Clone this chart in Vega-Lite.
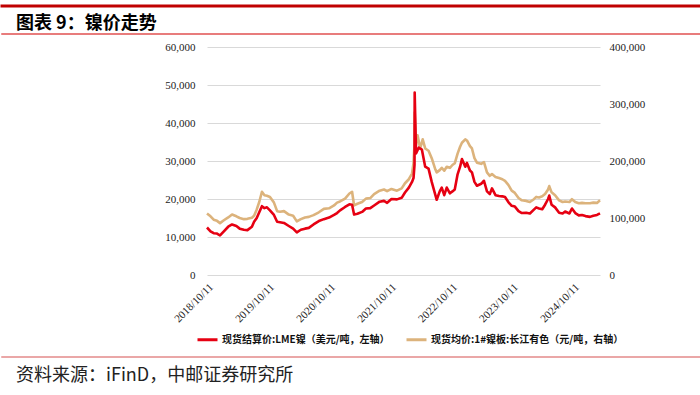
{
  "$schema": "https://vega.github.io/schema/vega-lite/v6.json",
  "background": "white",
  "padding": {"top": 4, "left": 0, "right": 0, "bottom": 0},
  "spacing": 6,
  "columns": 1,
  "align": "none",
  "resolve": {"scale": {"color": "independent"}, "legend": {"color": "independent"}},
  "config": {
    "view": {"stroke": null},
    "font": "Noto Sans CJK SC",
    "title": {"font": "Noto Sans CJK SC", "color": "#111111"}
  },
  "datasets": {
    "lme": [
      {"d": "2018-10-11", "v": 12500}, {"d": "2018-11-01", "v": 11500}, {"d": "2018-11-20", "v": 11000}, {"d": "2018-12-10", "v": 10900},
      {"d": "2018-12-28", "v": 10400}, {"d": "2019-01-20", "v": 11500}, {"d": "2019-02-15", "v": 12700}, {"d": "2019-03-10", "v": 13300},
      {"d": "2019-04-05", "v": 12900}, {"d": "2019-04-25", "v": 12200}, {"d": "2019-05-20", "v": 11900}, {"d": "2019-06-10", "v": 11800},
      {"d": "2019-07-07", "v": 12700}, {"d": "2019-07-20", "v": 14000}, {"d": "2019-08-05", "v": 15000}, {"d": "2019-08-20", "v": 16500},
      {"d": "2019-09-05", "v": 18100}, {"d": "2019-09-20", "v": 17600}, {"d": "2019-10-05", "v": 17800}, {"d": "2019-10-23", "v": 17000},
      {"d": "2019-11-16", "v": 15800}, {"d": "2019-12-05", "v": 14000}, {"d": "2019-12-22", "v": 13900}, {"d": "2020-01-15", "v": 13700},
      {"d": "2020-02-13", "v": 12900}, {"d": "2020-03-10", "v": 12200}, {"d": "2020-04-01", "v": 11200}, {"d": "2020-04-25", "v": 11900},
      {"d": "2020-05-20", "v": 12200}, {"d": "2020-06-12", "v": 12400}, {"d": "2020-07-10", "v": 13300}, {"d": "2020-08-11", "v": 14200},
      {"d": "2020-09-10", "v": 14700}, {"d": "2020-10-11", "v": 15100}, {"d": "2020-11-10", "v": 15800}, {"d": "2020-11-28", "v": 16300},
      {"d": "2020-12-16", "v": 17000}, {"d": "2021-01-15", "v": 17900}, {"d": "2021-02-10", "v": 18600}, {"d": "2021-02-26", "v": 18500},
      {"d": "2021-03-10", "v": 15900}, {"d": "2021-03-30", "v": 16100}, {"d": "2021-04-27", "v": 16600}, {"d": "2021-05-20", "v": 17500},
      {"d": "2021-06-15", "v": 17600}, {"d": "2021-07-08", "v": 18300}, {"d": "2021-08-10", "v": 19300}, {"d": "2021-09-05", "v": 19500},
      {"d": "2021-09-24", "v": 19000}, {"d": "2021-10-20", "v": 20000}, {"d": "2021-11-22", "v": 19900}, {"d": "2021-12-20", "v": 20300},
      {"d": "2022-01-09", "v": 21700}, {"d": "2022-02-01", "v": 23000}, {"d": "2022-02-20", "v": 24500}, {"d": "2022-03-01", "v": 25500},
      {"d": "2022-03-07", "v": 29000}, {"d": "2022-03-08", "v": 48000}, {"d": "2022-03-16", "v": 32000}, {"d": "2022-04-01", "v": 33500},
      {"d": "2022-04-20", "v": 33000}, {"d": "2022-05-10", "v": 28500}, {"d": "2022-05-30", "v": 28000}, {"d": "2022-06-18", "v": 24500},
      {"d": "2022-07-10", "v": 21000}, {"d": "2022-07-18", "v": 19800}, {"d": "2022-08-05", "v": 22000}, {"d": "2022-08-17", "v": 23000},
      {"d": "2022-09-01", "v": 21000}, {"d": "2022-09-16", "v": 23000}, {"d": "2022-10-05", "v": 21500}, {"d": "2022-10-20", "v": 22000},
      {"d": "2022-11-03", "v": 22500}, {"d": "2022-11-20", "v": 26500}, {"d": "2022-12-05", "v": 28500}, {"d": "2022-12-16", "v": 30500},
      {"d": "2023-01-05", "v": 28500}, {"d": "2023-01-15", "v": 29500}, {"d": "2023-02-02", "v": 27500}, {"d": "2023-02-14", "v": 27000},
      {"d": "2023-03-01", "v": 24500}, {"d": "2023-03-16", "v": 23500}, {"d": "2023-04-10", "v": 24000}, {"d": "2023-04-27", "v": 24800},
      {"d": "2023-05-15", "v": 22000}, {"d": "2023-06-01", "v": 21300}, {"d": "2023-06-14", "v": 22800}, {"d": "2023-07-05", "v": 21000},
      {"d": "2023-07-26", "v": 20800}, {"d": "2023-08-15", "v": 20700}, {"d": "2023-08-31", "v": 20500}, {"d": "2023-09-20", "v": 19200},
      {"d": "2023-10-10", "v": 18200}, {"d": "2023-10-29", "v": 18000}, {"d": "2023-11-20", "v": 16800}, {"d": "2023-12-10", "v": 16300},
      {"d": "2024-01-05", "v": 16400}, {"d": "2024-01-27", "v": 16200}, {"d": "2024-02-20", "v": 17200}, {"d": "2024-03-05", "v": 17800},
      {"d": "2024-03-22", "v": 17500}, {"d": "2024-04-10", "v": 17300}, {"d": "2024-04-27", "v": 18500}, {"d": "2024-05-15", "v": 20000},
      {"d": "2024-05-22", "v": 20900}, {"d": "2024-06-05", "v": 18500}, {"d": "2024-06-26", "v": 17800}, {"d": "2024-07-20", "v": 16400},
      {"d": "2024-08-10", "v": 16200}, {"d": "2024-08-25", "v": 16700}, {"d": "2024-09-20", "v": 16200}, {"d": "2024-10-05", "v": 17500},
      {"d": "2024-10-25", "v": 16300}, {"d": "2024-11-15", "v": 15700}, {"d": "2024-12-04", "v": 15800}, {"d": "2024-12-25", "v": 15500},
      {"d": "2025-01-21", "v": 15300}, {"d": "2025-02-10", "v": 15600}, {"d": "2025-03-04", "v": 15800}, {"d": "2025-03-22", "v": 16200}
    ],
    "cj": [
      {"d": "2018-10-11", "v": 108000}, {"d": "2018-11-01", "v": 103000}, {"d": "2018-11-20", "v": 97000}, {"d": "2018-12-10", "v": 95000},
      {"d": "2018-12-28", "v": 91000}, {"d": "2019-01-20", "v": 96000}, {"d": "2019-02-15", "v": 101000}, {"d": "2019-03-10", "v": 106000},
      {"d": "2019-04-05", "v": 103000}, {"d": "2019-04-25", "v": 100000}, {"d": "2019-05-20", "v": 98000}, {"d": "2019-06-10", "v": 98500},
      {"d": "2019-07-07", "v": 100500}, {"d": "2019-07-20", "v": 104000}, {"d": "2019-08-05", "v": 115000}, {"d": "2019-08-20", "v": 128000},
      {"d": "2019-09-05", "v": 146000}, {"d": "2019-09-20", "v": 140000}, {"d": "2019-10-05", "v": 139000}, {"d": "2019-10-23", "v": 137000},
      {"d": "2019-11-16", "v": 127000}, {"d": "2019-12-05", "v": 112000}, {"d": "2019-12-22", "v": 111000}, {"d": "2020-01-15", "v": 112000},
      {"d": "2020-02-13", "v": 106000}, {"d": "2020-03-10", "v": 104000}, {"d": "2020-04-01", "v": 94000}, {"d": "2020-04-25", "v": 98000},
      {"d": "2020-05-20", "v": 101000}, {"d": "2020-06-12", "v": 102000}, {"d": "2020-07-10", "v": 105000}, {"d": "2020-08-11", "v": 110000},
      {"d": "2020-09-10", "v": 116000}, {"d": "2020-10-11", "v": 117000}, {"d": "2020-11-10", "v": 122000}, {"d": "2020-11-28", "v": 127000},
      {"d": "2020-12-16", "v": 129000}, {"d": "2021-01-15", "v": 134000}, {"d": "2021-02-10", "v": 143000}, {"d": "2021-02-26", "v": 146000},
      {"d": "2021-03-10", "v": 122000}, {"d": "2021-03-30", "v": 125000}, {"d": "2021-04-27", "v": 128000}, {"d": "2021-05-20", "v": 134000},
      {"d": "2021-06-15", "v": 135000}, {"d": "2021-07-08", "v": 142000}, {"d": "2021-08-10", "v": 148000}, {"d": "2021-09-05", "v": 150000},
      {"d": "2021-09-24", "v": 147000}, {"d": "2021-10-20", "v": 151000}, {"d": "2021-11-22", "v": 148000}, {"d": "2021-12-20", "v": 152000},
      {"d": "2022-01-09", "v": 161000}, {"d": "2022-02-01", "v": 168000}, {"d": "2022-02-20", "v": 178000}, {"d": "2022-03-01", "v": 196000},
      {"d": "2022-03-07", "v": 230000}, {"d": "2022-03-08", "v": 285000}, {"d": "2022-03-16", "v": 228000}, {"d": "2022-03-25", "v": 245000},
      {"d": "2022-04-10", "v": 222000}, {"d": "2022-04-25", "v": 238000}, {"d": "2022-05-10", "v": 222000}, {"d": "2022-05-30", "v": 218000},
      {"d": "2022-06-18", "v": 205000}, {"d": "2022-07-10", "v": 185000}, {"d": "2022-07-18", "v": 180000}, {"d": "2022-08-05", "v": 184000},
      {"d": "2022-08-17", "v": 188000}, {"d": "2022-09-01", "v": 183000}, {"d": "2022-09-16", "v": 190000}, {"d": "2022-10-05", "v": 188000},
      {"d": "2022-10-20", "v": 193000}, {"d": "2022-11-03", "v": 196000}, {"d": "2022-11-20", "v": 213000}, {"d": "2022-12-05", "v": 225000},
      {"d": "2022-12-16", "v": 232000}, {"d": "2023-01-05", "v": 238000}, {"d": "2023-01-15", "v": 236000}, {"d": "2023-02-02", "v": 226000},
      {"d": "2023-02-14", "v": 222000}, {"d": "2023-03-01", "v": 205000}, {"d": "2023-03-16", "v": 197000}, {"d": "2023-04-10", "v": 195000},
      {"d": "2023-04-27", "v": 198000}, {"d": "2023-05-15", "v": 180000}, {"d": "2023-06-01", "v": 174000}, {"d": "2023-06-14", "v": 177000},
      {"d": "2023-07-05", "v": 172000}, {"d": "2023-07-26", "v": 170000}, {"d": "2023-08-15", "v": 168000}, {"d": "2023-08-31", "v": 165000},
      {"d": "2023-09-20", "v": 158000}, {"d": "2023-10-10", "v": 148000}, {"d": "2023-10-29", "v": 144000}, {"d": "2023-11-20", "v": 135000},
      {"d": "2023-12-10", "v": 131000}, {"d": "2024-01-05", "v": 130000}, {"d": "2024-01-27", "v": 128000}, {"d": "2024-02-20", "v": 133000},
      {"d": "2024-03-05", "v": 137000}, {"d": "2024-03-22", "v": 136000}, {"d": "2024-04-10", "v": 138000}, {"d": "2024-04-27", "v": 142000},
      {"d": "2024-05-15", "v": 150000}, {"d": "2024-05-22", "v": 156000}, {"d": "2024-06-05", "v": 145000}, {"d": "2024-06-26", "v": 140000},
      {"d": "2024-07-20", "v": 131000}, {"d": "2024-08-10", "v": 128000}, {"d": "2024-08-25", "v": 129000}, {"d": "2024-09-20", "v": 128000},
      {"d": "2024-10-05", "v": 133000}, {"d": "2024-10-25", "v": 128000}, {"d": "2024-11-15", "v": 126000}, {"d": "2024-12-04", "v": 126500},
      {"d": "2024-12-25", "v": 126000}, {"d": "2025-01-21", "v": 126000}, {"d": "2025-02-10", "v": 127000}, {"d": "2025-03-04", "v": 126500},
      {"d": "2025-03-22", "v": 131000}
    ]
  },
  "concat": [
    {
      "width": 700, "height": 0.01,
      "view": {"stroke": "#c00000", "strokeWidth": 3},
      "data": {"values": []},
      "mark": {"type": "point", "opacity": 0}
    },
    {
      "width": 700, "height": 0.01,
      "view": {"stroke": "#e05050", "strokeWidth": 1.5},
      "title": {"text": "图表 9：镍价走势", "anchor": "start", "fontSize": 18, "fontWeight": "bold", "offset": 1, "dx": 14, "color": "#000000"},
      "data": {"values": []},
      "mark": {"type": "point", "opacity": 0}
    },
    {
      "spacing": 0,
      "resolve": {"scale": {"color": "independent"}, "legend": {"color": "independent"}},
      "hconcat": [
        {
          "width": 155, "height": 0.01,
          "data": {"values": []},
          "mark": {"type": "point", "opacity": 0}
        },
        {
          "width": 393, "height": 228,
          "layer": [
            {
              "data": {"name": "cj"},
              "mark": {"type": "line", "strokeWidth": 2.6, "strokeJoin": "round"},
              "encoding": {
                "x": {
                  "field": "d", "type": "temporal",
                  "scale": {"type": "utc", "domain": [{"year": 2018, "month": 10, "date": 11, "utc": true}, {"year": 2025, "month": 3, "date": 22, "utc": true}]},
                  "axis": {
                    "title": null, "format": "%Y/%m/%d", "labelAngle": -45, "ticks": false, "domain": false, "grid": false,
                    "labelFont": "Liberation Serif", "labelFontSize": 11, "labelColor": "#222222", "labelPadding": 6, "labelOverlap": false,
                    "values": [
                      {"year": 2018, "month": 10, "date": 11, "utc": true}, {"year": 2019, "month": 10, "date": 11, "utc": true},
                      {"year": 2020, "month": 10, "date": 11, "utc": true}, {"year": 2021, "month": 10, "date": 11, "utc": true},
                      {"year": 2022, "month": 10, "date": 11, "utc": true}, {"year": 2023, "month": 10, "date": 11, "utc": true},
                      {"year": 2024, "month": 10, "date": 11, "utc": true}
                    ]
                  }
                },
                "y": {
                  "field": "v", "type": "quantitative",
                  "scale": {"domain": [0, 400000]},
                  "axis": {
                    "orient": "right", "title": null, "values": [0, 100000, 200000, 300000, 400000], "format": ",.0f",
                    "grid": false, "ticks": false, "domain": false, "labelFont": "Liberation Serif", "labelFontSize": 11,
                    "labelColor": "#222222", "labelPadding": 9, "minExtent": 102
                  }
                },
                "color": {
                  "datum": "现货均价:1#镍板:长江有色（元/吨，右轴）",
                  "scale": {"domain": ["现货结算价:LME镍（美元/吨，左轴）", "现货均价:1#镍板:长江有色（元/吨，右轴）"], "range": ["#e60012", "#dcb37c"]},
                  "legend": {
                    "title": null, "orient": "none", "legendX": -15, "legendY": 277, "direction": "horizontal",
                    "symbolType": "stroke", "symbolSize": 400, "symbolStrokeWidth": 3, "labelFont": "Noto Sans CJK SC",
                    "labelFontSize": 10, "labelFontWeight": "bold", "labelColor": "#111111", "labelOffset": 3, "columnPadding": 10,
                    "padding": 4, "labelLimit": 400
                  }
                }
              }
            },
            {
              "data": {"name": "lme"},
              "mark": {"type": "line", "strokeWidth": 2.6, "strokeJoin": "round"},
              "encoding": {
                "x": {"field": "d", "type": "temporal"},
                "y": {
                  "field": "v", "type": "quantitative",
                  "scale": {"domain": [0, 60000]},
                  "axis": {
                    "orient": "left", "title": null, "values": [0, 10000, 20000, 30000, 40000, 50000, 60000], "format": ",.0f",
                    "grid": true, "gridColor": "#d9d9d9", "gridWidth": 1.2, "ticks": false, "domain": false,
                    "labelFont": "Liberation Serif", "labelFontSize": 11, "labelColor": "#222222", "labelPadding": 12, "minExtent": 50
                  }
                },
                "color": {"datum": "现货结算价:LME镍（美元/吨，左轴）"}
              }
            }
          ],
          "resolve": {"scale": {"y": "independent"}, "axis": {"y": "independent"}}
        }
      ]
    },
    {
      "width": 700, "height": 0.01,
      "view": {"stroke": "#e38a8a", "strokeWidth": 1.5},
      "title": {"text": "资料来源：iFinD，中邮证券研究所", "orient": "bottom", "anchor": "start", "fontSize": 18, "fontWeight": "normal", "offset": 10, "dx": 14, "color": "#222222"},
      "data": {"values": []},
      "mark": {"type": "point", "opacity": 0}
    }
  ]
}
